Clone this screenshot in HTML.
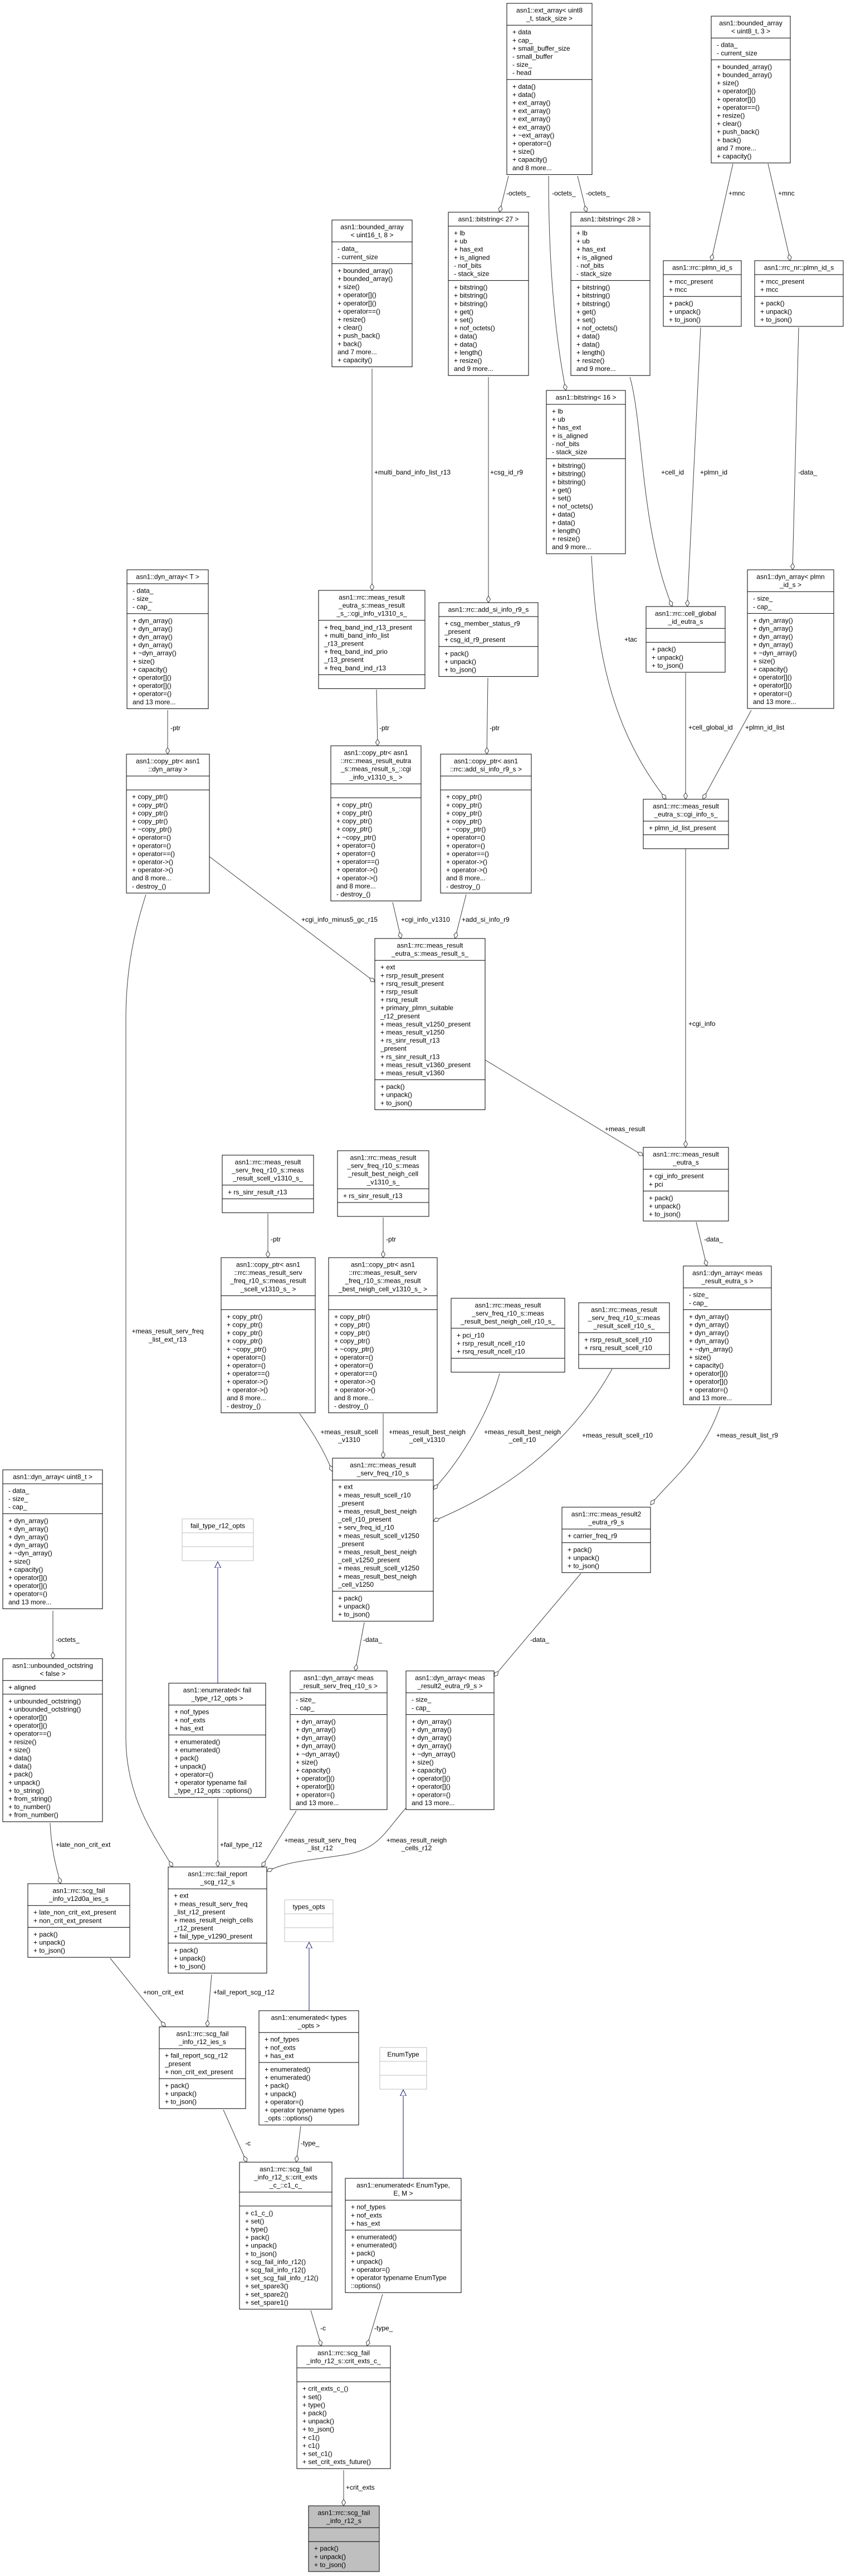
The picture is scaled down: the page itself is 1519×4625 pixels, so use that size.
<!DOCTYPE html>
<html><head><meta charset="utf-8"><style>
html,body{margin:0;padding:0;background:#fff;}
svg{display:block;}
text{font-family:"Liberation Sans",Arial,sans-serif;font-size:12px;fill:#000;}
.h{text-anchor:middle;}
.b{fill:#fff;stroke:#000;stroke-width:1;}
.g{fill:#fff;stroke:#bfbfbf;stroke-width:1;}
.s{stroke:#000;stroke-width:1;}
.sg{stroke:#bfbfbf;stroke-width:1;}
.e{fill:none;stroke:#404040;stroke-width:1;marker-end:url(#dia);}
.i{fill:none;stroke:#191970;stroke-width:1;marker-end:url(#tri);}
.l{text-anchor:start;}
.lc{text-anchor:middle;}
</style></head><body>
<svg width="1519" height="4625" viewBox="0 0 1519 4625" xmlns="http://www.w3.org/2000/svg">
<defs>
<marker id="dia" markerWidth="14" markerHeight="10" refX="12" refY="4" orient="auto" markerUnits="userSpaceOnUse"><path d="M0,4 L6,0.5 L12,4 L6,7.5 Z" fill="#fff" stroke="#404040" stroke-width="1"/></marker>
<marker id="tri" markerWidth="14" markerHeight="14" refX="11" refY="6" orient="auto" markerUnits="userSpaceOnUse"><path d="M0,0.5 L11,6 L0,11.5 Z" fill="#fff" stroke="#191970" stroke-width="1"/></marker>
</defs>

<!-- EDGES -->
<path class="e" d="M913,316 L897,381"/>
<path class="e" d="M1037,316 L1053,381"/>
<path class="e" d="M985,316 C985,500 1000,620 1016,701"/>
<path class="e" d="M1316,294 L1277,468"/>
<path class="e" d="M1379,294 L1419,468"/>
<path class="e" d="M668,662 L668,1060"/>
<path class="e" d="M877,677 L877,1082"/>
<path class="e" d="M1131,677 C1155,760 1150,950 1207,1089"/>
<path class="e" d="M1258,588 L1234,1089"/>
<path class="e" d="M1434,588 L1423,1023"/>
<path class="e" d="M1062,998 C1070,1150 1090,1300 1196,1435"/>
<path class="e" d="M1231,1208 L1231,1435"/>
<path class="e" d="M1349,1275 L1262,1435"/>
<path class="e" d="M301,1275 L301,1354"/>
<path class="e" d="M676,1238 L678,1339"/>
<path class="e" d="M876,1217 L874,1354"/>
<path class="e" d="M376,1538 L673,1763"/>
<path class="e" d="M705,1620 L720,1685"/>
<path class="e" d="M837,1606 L817,1685"/>
<path class="e" d="M1231,1524 L1231,2060"/>
<path class="e" d="M871,1903 L1155,2075"/>
<path class="e" d="M1250,2194 L1269,2273"/>
<path class="e" d="M262,1606 C235,1690 226,1760 226,1830 L226,3120 C226,3230 280,3300 310,3352"/>
<path class="e" d="M481,2179 L481,2258"/>
<path class="e" d="M688,2186 L688,2258"/>
<path class="e" d="M538,2538 C560,2570 580,2600 597,2642"/>
<path class="e" d="M688,2538 L688,2618"/>
<path class="e" d="M897,2466 C880,2530 830,2620 778,2674"/>
<path class="e" d="M1099,2458 C1020,2600 900,2680 778,2731"/>
<path class="e" d="M1293,2525 C1260,2620 1200,2660 1168,2702"/>
<path class="e" d="M654,2913 L638,3000"/>
<path class="e" d="M1043,2825 L887,3010"/>
<path class="e" d="M95,2892 L95,2978"/>
<path class="e" d="M90,3273 C92,3320 100,3350 109,3382"/>
<path class="i" d="M391,3022 L391,2804"/>
<path class="e" d="M391,3229 L391,3352"/>
<path class="e" d="M532,3251 L470,3352"/>
<path class="e" d="M729,3246 C690,3290 680,3320 620,3330 C560,3340 520,3340 479,3360"/>
<path class="e" d="M198,3516 L297,3639"/>
<path class="e" d="M380,3545 L372,3639"/>
<path class="i" d="M555,3610 L555,3487"/>
<path class="e" d="M401,3788 L443,3882"/>
<path class="e" d="M540,3817 L532,3882"/>
<path class="i" d="M724,3911 L724,3752"/>
<path class="e" d="M558,4148 L577,4212"/>
<path class="e" d="M687,4119 L659,4212"/>
<path class="e" d="M617,4435 L617,4499"/>

<!-- EDGE LABELS -->
<text class="l" x="909" y="351">-octets_</text>
<text class="l" x="1052" y="351">-octets_</text>
<text class="l" x="991" y="351">-octets_</text>
<text class="l" x="1308" y="351">+mnc</text>
<text class="l" x="1397" y="351">+mnc</text>
<text class="l" x="672" y="852">+multi_band_info_list_r13</text>
<text class="l" x="880" y="852">+csg_id_r9</text>
<text class="l" x="1187" y="852">+cell_id</text>
<text class="l" x="1257" y="852">+plmn_id</text>
<text class="l" x="1433" y="852">-data_</text>
<text class="l" x="1121" y="1152">+tac</text>
<text class="l" x="1236" y="1310">+cell_global_id</text>
<text class="l" x="1338" y="1310">+plmn_id_list</text>
<text class="l" x="306" y="1311">-ptr</text>
<text class="l" x="681" y="1311">-ptr</text>
<text class="l" x="879" y="1311">-ptr</text>
<text class="l" x="541" y="1655">+cgi_info_minus5_gc_r15</text>
<text class="l" x="720" y="1655">+cgi_info_v1310</text>
<text class="l" x="829" y="1655">+add_si_info_r9</text>
<text class="l" x="1236" y="1842">+cgi_info</text>
<text class="l" x="1086" y="2031">+meas_result</text>
<text class="l" x="1264" y="2229">-data_</text>
<text class="lc" x="301" y="2394">+meas_result_serv_freq</text>
<text class="lc" x="301" y="2409">_list_ext_r13</text>
<text class="l" x="486" y="2229">-ptr</text>
<text class="l" x="693" y="2229">-ptr</text>
<text class="lc" x="627" y="2575">+meas_result_scell</text>
<text class="lc" x="627" y="2589">_v1310</text>
<text class="lc" x="767" y="2575">+meas_result_best_neigh</text>
<text class="lc" x="767" y="2589">_cell_v1310</text>
<text class="lc" x="938" y="2575">+meas_result_best_neigh</text>
<text class="lc" x="938" y="2589">_cell_r10</text>
<text class="l" x="1045" y="2581">+meas_result_scell_r10</text>
<text class="l" x="1286" y="2581">+meas_result_list_r9</text>
<text class="l" x="652" y="2948">-data_</text>
<text class="l" x="952" y="2948">-data_</text>
<text class="l" x="100" y="2948">-octets_</text>
<text class="l" x="100" y="3316">+late_non_crit_ext</text>
<text class="l" x="395" y="3316">+fail_type_r12</text>
<text class="lc" x="575" y="3308">+meas_result_serv_freq</text>
<text class="lc" x="575" y="3322">_list_r12</text>
<text class="lc" x="748" y="3308">+meas_result_neigh</text>
<text class="lc" x="748" y="3322">_cells_r12</text>
<text class="l" x="257" y="3581">+non_crit_ext</text>
<text class="l" x="383" y="3581">+fail_report_scg_r12</text>
<text class="l" x="440" y="3852">-c</text>
<text class="l" x="540" y="3852">-type_</text>
<text class="l" x="575" y="4184">-c</text>
<text class="l" x="672" y="4184">-type_</text>
<text class="l" x="621" y="4470">+crit_exts</text>

<!-- B1 ext_array -->
<g transform="translate(910,6)"><rect class="b" width="153" height="307.4"/><line class="s" x1="0" y1="39.2" x2="153" y2="39.2"/><line class="s" x1="0" y1="136.8" x2="153" y2="136.8"/>
<text class="h"><tspan x="76.5" y="16.5">asn1::ext_array&lt; uint8</tspan><tspan x="76.5" dy="14.6">_t, stack_size &gt;</tspan></text>
<text><tspan x="10" y="55.7">+ data</tspan><tspan x="10" dy="14.6">+ cap_</tspan><tspan x="10" dy="14.6">+ small_buffer_size</tspan><tspan x="10" dy="14.6">- small_buffer</tspan><tspan x="10" dy="14.6">- size_</tspan><tspan x="10" dy="14.6">- head</tspan></text>
<text><tspan x="10" y="153.3">+ data()</tspan><tspan x="10" dy="14.6">+ data()</tspan><tspan x="10" dy="14.6">+ ext_array()</tspan><tspan x="10" dy="14.6">+ ext_array()</tspan><tspan x="10" dy="14.6">+ ext_array()</tspan><tspan x="10" dy="14.6">+ ext_array()</tspan><tspan x="10" dy="14.6">+ ~ext_array()</tspan><tspan x="10" dy="14.6">+ operator=()</tspan><tspan x="10" dy="14.6">+ size()</tspan><tspan x="10" dy="14.6">+ capacity()</tspan><tspan x="10" dy="14.6">and 8 more...</tspan></text></g>

<!-- B2 bounded_array uint8 3 -->
<g transform="translate(1277,29)"><rect class="b" width="142" height="263.6"/><line class="s" x1="0" y1="39.2" x2="142" y2="39.2"/><line class="s" x1="0" y1="78.4" x2="142" y2="78.4"/>
<text class="h"><tspan x="71" y="16.5">asn1::bounded_array</tspan><tspan x="71" dy="14.6">&lt; uint8_t, 3 &gt;</tspan></text>
<text><tspan x="10" y="55.7">- data_</tspan><tspan x="10" dy="14.6">- current_size</tspan></text>
<text><tspan x="10" y="94.9">+ bounded_array()</tspan><tspan x="10" dy="14.6">+ bounded_array()</tspan><tspan x="10" dy="14.6">+ size()</tspan><tspan x="10" dy="14.6">+ operator[]()</tspan><tspan x="10" dy="14.6">+ operator[]()</tspan><tspan x="10" dy="14.6">+ operator==()</tspan><tspan x="10" dy="14.6">+ resize()</tspan><tspan x="10" dy="14.6">+ clear()</tspan><tspan x="10" dy="14.6">+ push_back()</tspan><tspan x="10" dy="14.6">+ back()</tspan><tspan x="10" dy="14.6">and 7 more...</tspan><tspan x="10" dy="14.6">+ capacity()</tspan></text></g>

<!-- B3 bounded_array uint16 8 -->
<g transform="translate(596,395)"><rect class="b" width="144" height="263.6"/><line class="s" x1="0" y1="39.2" x2="144" y2="39.2"/><line class="s" x1="0" y1="78.4" x2="144" y2="78.4"/>
<text class="h"><tspan x="72" y="16.5">asn1::bounded_array</tspan><tspan x="72" dy="14.6">&lt; uint16_t, 8 &gt;</tspan></text>
<text><tspan x="10" y="55.7">- data_</tspan><tspan x="10" dy="14.6">- current_size</tspan></text>
<text><tspan x="10" y="94.9">+ bounded_array()</tspan><tspan x="10" dy="14.6">+ bounded_array()</tspan><tspan x="10" dy="14.6">+ size()</tspan><tspan x="10" dy="14.6">+ operator[]()</tspan><tspan x="10" dy="14.6">+ operator[]()</tspan><tspan x="10" dy="14.6">+ operator==()</tspan><tspan x="10" dy="14.6">+ resize()</tspan><tspan x="10" dy="14.6">+ clear()</tspan><tspan x="10" dy="14.6">+ push_back()</tspan><tspan x="10" dy="14.6">+ back()</tspan><tspan x="10" dy="14.6">and 7 more...</tspan><tspan x="10" dy="14.6">+ capacity()</tspan></text></g>

<!-- B4 bitstring 27 -->
<g transform="translate(805,381)"><rect class="b" width="144" height="293.2"/><line class="s" x1="0" y1="25" x2="144" y2="25"/><line class="s" x1="0" y1="122.6" x2="144" y2="122.6"/>
<text class="h"><tspan x="72" y="16.5">asn1::bitstring&lt; 27 &gt;</tspan></text>
<text><tspan x="10" y="41.5">+ lb</tspan><tspan x="10" dy="14.6">+ ub</tspan><tspan x="10" dy="14.6">+ has_ext</tspan><tspan x="10" dy="14.6">+ is_aligned</tspan><tspan x="10" dy="14.6">- nof_bits</tspan><tspan x="10" dy="14.6">- stack_size</tspan></text>
<text><tspan x="10" y="139.1">+ bitstring()</tspan><tspan x="10" dy="14.6">+ bitstring()</tspan><tspan x="10" dy="14.6">+ bitstring()</tspan><tspan x="10" dy="14.6">+ get()</tspan><tspan x="10" dy="14.6">+ set()</tspan><tspan x="10" dy="14.6">+ nof_octets()</tspan><tspan x="10" dy="14.6">+ data()</tspan><tspan x="10" dy="14.6">+ data()</tspan><tspan x="10" dy="14.6">+ length()</tspan><tspan x="10" dy="14.6">+ resize()</tspan><tspan x="10" dy="14.6">and 9 more...</tspan></text></g>

<!-- B5 bitstring 28 -->
<g transform="translate(1025,381)"><rect class="b" width="142" height="293.2"/><line class="s" x1="0" y1="25" x2="142" y2="25"/><line class="s" x1="0" y1="122.6" x2="142" y2="122.6"/>
<text class="h"><tspan x="71" y="16.5">asn1::bitstring&lt; 28 &gt;</tspan></text>
<text><tspan x="10" y="41.5">+ lb</tspan><tspan x="10" dy="14.6">+ ub</tspan><tspan x="10" dy="14.6">+ has_ext</tspan><tspan x="10" dy="14.6">+ is_aligned</tspan><tspan x="10" dy="14.6">- nof_bits</tspan><tspan x="10" dy="14.6">- stack_size</tspan></text>
<text><tspan x="10" y="139.1">+ bitstring()</tspan><tspan x="10" dy="14.6">+ bitstring()</tspan><tspan x="10" dy="14.6">+ bitstring()</tspan><tspan x="10" dy="14.6">+ get()</tspan><tspan x="10" dy="14.6">+ set()</tspan><tspan x="10" dy="14.6">+ nof_octets()</tspan><tspan x="10" dy="14.6">+ data()</tspan><tspan x="10" dy="14.6">+ data()</tspan><tspan x="10" dy="14.6">+ length()</tspan><tspan x="10" dy="14.6">+ resize()</tspan><tspan x="10" dy="14.6">and 9 more...</tspan></text></g>

<!-- B6 bitstring 16 -->
<g transform="translate(981,701)"><rect class="b" width="142" height="293.2"/><line class="s" x1="0" y1="25" x2="142" y2="25"/><line class="s" x1="0" y1="122.6" x2="142" y2="122.6"/>
<text class="h"><tspan x="71" y="16.5">asn1::bitstring&lt; 16 &gt;</tspan></text>
<text><tspan x="10" y="41.5">+ lb</tspan><tspan x="10" dy="14.6">+ ub</tspan><tspan x="10" dy="14.6">+ has_ext</tspan><tspan x="10" dy="14.6">+ is_aligned</tspan><tspan x="10" dy="14.6">- nof_bits</tspan><tspan x="10" dy="14.6">- stack_size</tspan></text>
<text><tspan x="10" y="139.1">+ bitstring()</tspan><tspan x="10" dy="14.6">+ bitstring()</tspan><tspan x="10" dy="14.6">+ bitstring()</tspan><tspan x="10" dy="14.6">+ get()</tspan><tspan x="10" dy="14.6">+ set()</tspan><tspan x="10" dy="14.6">+ nof_octets()</tspan><tspan x="10" dy="14.6">+ data()</tspan><tspan x="10" dy="14.6">+ data()</tspan><tspan x="10" dy="14.6">+ length()</tspan><tspan x="10" dy="14.6">+ resize()</tspan><tspan x="10" dy="14.6">and 9 more...</tspan></text></g>

<!-- B7 plmn rrc -->
<g transform="translate(1191,468)"><rect class="b" width="140" height="118"/><line class="s" x1="0" y1="25" x2="140" y2="25"/><line class="s" x1="0" y1="64.2" x2="140" y2="64.2"/>
<text class="h"><tspan x="70" y="16.5">asn1::rrc::plmn_id_s</tspan></text>
<text><tspan x="10" y="41.5">+ mcc_present</tspan><tspan x="10" dy="14.6">+ mcc</tspan></text>
<text><tspan x="10" y="80.7">+ pack()</tspan><tspan x="10" dy="14.6">+ unpack()</tspan><tspan x="10" dy="14.6">+ to_json()</tspan></text></g>

<!-- B8 plmn rrc_nr -->
<g transform="translate(1355,468)"><rect class="b" width="159" height="118"/><line class="s" x1="0" y1="25" x2="159" y2="25"/><line class="s" x1="0" y1="64.2" x2="159" y2="64.2"/>
<text class="h"><tspan x="79.5" y="16.5">asn1::rrc_nr::plmn_id_s</tspan></text>
<text><tspan x="10" y="41.5">+ mcc_present</tspan><tspan x="10" dy="14.6">+ mcc</tspan></text>
<text><tspan x="10" y="80.7">+ pack()</tspan><tspan x="10" dy="14.6">+ unpack()</tspan><tspan x="10" dy="14.6">+ to_json()</tspan></text></g>

<!-- B9 dyn_array plmn_id_s -->
<g transform="translate(1342,1023)"><rect class="b" width="155" height="249"/><line class="s" x1="0" y1="39.2" x2="155" y2="39.2"/><line class="s" x1="0" y1="78.4" x2="155" y2="78.4"/>
<text class="h"><tspan x="77.5" y="16.5">asn1::dyn_array&lt; plmn</tspan><tspan x="77.5" dy="14.6">_id_s &gt;</tspan></text>
<text><tspan x="10" y="55.7">- size_</tspan><tspan x="10" dy="14.6">- cap_</tspan></text>
<text><tspan x="10" y="94.9">+ dyn_array()</tspan><tspan x="10" dy="14.6">+ dyn_array()</tspan><tspan x="10" dy="14.6">+ dyn_array()</tspan><tspan x="10" dy="14.6">+ dyn_array()</tspan><tspan x="10" dy="14.6">+ ~dyn_array()</tspan><tspan x="10" dy="14.6">+ size()</tspan><tspan x="10" dy="14.6">+ capacity()</tspan><tspan x="10" dy="14.6">+ operator[]()</tspan><tspan x="10" dy="14.6">+ operator[]()</tspan><tspan x="10" dy="14.6">+ operator=()</tspan><tspan x="10" dy="14.6">and 13 more...</tspan></text></g>

<!-- B10 cell_global -->
<g transform="translate(1160,1089)"><rect class="b" width="142" height="118"/><line class="s" x1="0" y1="39.2" x2="142" y2="39.2"/><line class="s" x1="0" y1="64.2" x2="142" y2="64.2"/>
<text class="h"><tspan x="71" y="16.5">asn1::rrc::cell_global</tspan><tspan x="71" dy="14.6">_id_eutra_s</tspan></text>
<text><tspan x="10" y="80.7">+ pack()</tspan><tspan x="10" dy="14.6">+ unpack()</tspan><tspan x="10" dy="14.6">+ to_json()</tspan></text></g>

<!-- B11 dyn_array T -->
<g transform="translate(228,1023)"><rect class="b" width="146" height="249.4"/><line class="s" x1="0" y1="25" x2="146" y2="25"/><line class="s" x1="0" y1="78.8" x2="146" y2="78.8"/>
<text class="h"><tspan x="73" y="16.5">asn1::dyn_array&lt; T &gt;</tspan></text>
<text><tspan x="10" y="41.5">- data_</tspan><tspan x="10" dy="14.6">- size_</tspan><tspan x="10" dy="14.6">- cap_</tspan></text>
<text><tspan x="10" y="95.3">+ dyn_array()</tspan><tspan x="10" dy="14.6">+ dyn_array()</tspan><tspan x="10" dy="14.6">+ dyn_array()</tspan><tspan x="10" dy="14.6">+ dyn_array()</tspan><tspan x="10" dy="14.6">+ ~dyn_array()</tspan><tspan x="10" dy="14.6">+ size()</tspan><tspan x="10" dy="14.6">+ capacity()</tspan><tspan x="10" dy="14.6">+ operator[]()</tspan><tspan x="10" dy="14.6">+ operator[]()</tspan><tspan x="10" dy="14.6">+ operator=()</tspan><tspan x="10" dy="14.6">and 13 more...</tspan></text></g>

<!-- B12 cgi_info_v1310 -->
<g transform="translate(572,1060)"><rect class="b" width="191" height="176.4"/><line class="s" x1="0" y1="53.8" x2="191" y2="53.8"/><line class="s" x1="0" y1="151.4" x2="191" y2="151.4"/>
<text class="h"><tspan x="95.5" y="16.5">asn1::rrc::meas_result</tspan><tspan x="95.5" dy="14.6">_eutra_s::meas_result</tspan><tspan x="95.5" dy="14.6">_s_::cgi_info_v1310_s_</tspan></text>
<text><tspan x="10" y="70.3">+ freq_band_ind_r13_present</tspan><tspan x="10" dy="14.6">+ multi_band_info_list</tspan><tspan x="10" dy="14.6">_r13_present</tspan><tspan x="10" dy="14.6">+ freq_band_ind_prio</tspan><tspan x="10" dy="14.6">_r13_present</tspan><tspan x="10" dy="14.6">+ freq_band_ind_r13</tspan></text></g>

<!-- B13 add_si_info_r9_s -->
<g transform="translate(788,1082)"><rect class="b" width="178" height="132.6"/><line class="s" x1="0" y1="25" x2="178" y2="25"/><line class="s" x1="0" y1="78.8" x2="178" y2="78.8"/>
<text class="h"><tspan x="89" y="16.5">asn1::rrc::add_si_info_r9_s</tspan></text>
<text><tspan x="10" y="41.5">+ csg_member_status_r9</tspan><tspan x="10" dy="14.6">_present</tspan><tspan x="10" dy="14.6">+ csg_id_r9_present</tspan></text>
<text><tspan x="10" y="95.3">+ pack()</tspan><tspan x="10" dy="14.6">+ unpack()</tspan><tspan x="10" dy="14.6">+ to_json()</tspan></text></g>

<!-- B14 copy_ptr dyn_array -->
<g transform="translate(227,1354)"><rect class="b" width="149" height="249.4"/><line class="s" x1="0" y1="39.2" x2="149" y2="39.2"/><line class="s" x1="0" y1="64.2" x2="149" y2="64.2"/>
<text class="h"><tspan x="74.5" y="16.5">asn1::copy_ptr&lt; asn1</tspan><tspan x="74.5" dy="14.6">::dyn_array &gt;</tspan></text>
<text><tspan x="10" y="80.7">+ copy_ptr()</tspan><tspan x="10" dy="14.6">+ copy_ptr()</tspan><tspan x="10" dy="14.6">+ copy_ptr()</tspan><tspan x="10" dy="14.6">+ copy_ptr()</tspan><tspan x="10" dy="14.6">+ ~copy_ptr()</tspan><tspan x="10" dy="14.6">+ operator=()</tspan><tspan x="10" dy="14.6">+ operator=()</tspan><tspan x="10" dy="14.6">+ operator==()</tspan><tspan x="10" dy="14.6">+ operator-&gt;()</tspan><tspan x="10" dy="14.6">+ operator-&gt;()</tspan><tspan x="10" dy="14.6">and 8 more...</tspan><tspan x="10" dy="14.6">- destroy_()</tspan></text></g>

<!-- B15 copy_ptr cgi -->
<g transform="translate(594,1339)"><rect class="b" width="162" height="278.6"/><line class="s" x1="0" y1="68.4" x2="162" y2="68.4"/><line class="s" x1="0" y1="93.4" x2="162" y2="93.4"/>
<text class="h"><tspan x="81" y="16.5">asn1::copy_ptr&lt; asn1</tspan><tspan x="81" dy="14.6">::rrc::meas_result_eutra</tspan><tspan x="81" dy="14.6">_s::meas_result_s_::cgi</tspan><tspan x="81" dy="14.6">_info_v1310_s_ &gt;</tspan></text>
<text><tspan x="10" y="109.9">+ copy_ptr()</tspan><tspan x="10" dy="14.6">+ copy_ptr()</tspan><tspan x="10" dy="14.6">+ copy_ptr()</tspan><tspan x="10" dy="14.6">+ copy_ptr()</tspan><tspan x="10" dy="14.6">+ ~copy_ptr()</tspan><tspan x="10" dy="14.6">+ operator=()</tspan><tspan x="10" dy="14.6">+ operator=()</tspan><tspan x="10" dy="14.6">+ operator==()</tspan><tspan x="10" dy="14.6">+ operator-&gt;()</tspan><tspan x="10" dy="14.6">+ operator-&gt;()</tspan><tspan x="10" dy="14.6">and 8 more...</tspan><tspan x="10" dy="14.6">- destroy_()</tspan></text></g>

<!-- B16 copy_ptr add_si -->
<g transform="translate(791,1354)"><rect class="b" width="163" height="249.4"/><line class="s" x1="0" y1="39.2" x2="163" y2="39.2"/><line class="s" x1="0" y1="64.2" x2="163" y2="64.2"/>
<text class="h"><tspan x="81.5" y="16.5">asn1::copy_ptr&lt; asn1</tspan><tspan x="81.5" dy="14.6">::rrc::add_si_info_r9_s &gt;</tspan></text>
<text><tspan x="10" y="80.7">+ copy_ptr()</tspan><tspan x="10" dy="14.6">+ copy_ptr()</tspan><tspan x="10" dy="14.6">+ copy_ptr()</tspan><tspan x="10" dy="14.6">+ copy_ptr()</tspan><tspan x="10" dy="14.6">+ ~copy_ptr()</tspan><tspan x="10" dy="14.6">+ operator=()</tspan><tspan x="10" dy="14.6">+ operator=()</tspan><tspan x="10" dy="14.6">+ operator==()</tspan><tspan x="10" dy="14.6">+ operator-&gt;()</tspan><tspan x="10" dy="14.6">+ operator-&gt;()</tspan><tspan x="10" dy="14.6">and 8 more...</tspan><tspan x="10" dy="14.6">- destroy_()</tspan></text></g>

<!-- B17 cgi_info_s_ -->
<g transform="translate(1155,1435)"><rect class="b" width="153" height="88.8"/><line class="s" x1="0" y1="39.2" x2="153" y2="39.2"/><line class="s" x1="0" y1="63.8" x2="153" y2="63.8"/>
<text class="h"><tspan x="76.5" y="16.5">asn1::rrc::meas_result</tspan><tspan x="76.5" dy="14.6">_eutra_s::cgi_info_s_</tspan></text>
<text><tspan x="10" y="55.7">+ plmn_id_list_present</tspan></text></g>

<!-- B18 meas_result_s_ -->
<g transform="translate(673,1685)"><rect class="b" width="198" height="307.4"/><line class="s" x1="0" y1="39.2" x2="198" y2="39.2"/><line class="s" x1="0" y1="253.6" x2="198" y2="253.6"/>
<text class="h"><tspan x="99" y="16.5">asn1::rrc::meas_result</tspan><tspan x="99" dy="14.6">_eutra_s::meas_result_s_</tspan></text>
<text><tspan x="10" y="55.7">+ ext</tspan><tspan x="10" dy="14.6">+ rsrp_result_present</tspan><tspan x="10" dy="14.6">+ rsrq_result_present</tspan><tspan x="10" dy="14.6">+ rsrp_result</tspan><tspan x="10" dy="14.6">+ rsrq_result</tspan><tspan x="10" dy="14.6">+ primary_plmn_suitable</tspan><tspan x="10" dy="14.6">_r12_present</tspan><tspan x="10" dy="14.6">+ meas_result_v1250_present</tspan><tspan x="10" dy="14.6">+ meas_result_v1250</tspan><tspan x="10" dy="14.6">+ rs_sinr_result_r13</tspan><tspan x="10" dy="14.6">_present</tspan><tspan x="10" dy="14.6">+ rs_sinr_result_r13</tspan><tspan x="10" dy="14.6">+ meas_result_v1360_present</tspan><tspan x="10" dy="14.6">+ meas_result_v1360</tspan></text>
<text><tspan x="10" y="270.1">+ pack()</tspan><tspan x="10" dy="14.6">+ unpack()</tspan><tspan x="10" dy="14.6">+ to_json()</tspan></text></g>

<!-- B19 meas_result_eutra_s -->
<g transform="translate(1155,2060)"><rect class="b" width="153" height="132.2"/><line class="s" x1="0" y1="39.2" x2="153" y2="39.2"/><line class="s" x1="0" y1="78.4" x2="153" y2="78.4"/>
<text class="h"><tspan x="76.5" y="16.5">asn1::rrc::meas_result</tspan><tspan x="76.5" dy="14.6">_eutra_s</tspan></text>
<text><tspan x="10" y="55.7">+ cgi_info_present</tspan><tspan x="10" dy="14.6">+ pci</tspan></text>
<text><tspan x="10" y="94.9">+ pack()</tspan><tspan x="10" dy="14.6">+ unpack()</tspan><tspan x="10" dy="14.6">+ to_json()</tspan></text></g>

<!-- B20 scell_v1310 -->
<g transform="translate(399,2074)"><rect class="b" width="164" height="103.4"/><line class="s" x1="0" y1="53.8" x2="164" y2="53.8"/><line class="s" x1="0" y1="78.4" x2="164" y2="78.4"/>
<text class="h"><tspan x="82" y="16.5">asn1::rrc::meas_result</tspan><tspan x="82" dy="14.6">_serv_freq_r10_s::meas</tspan><tspan x="82" dy="14.6">_result_scell_v1310_s_</tspan></text>
<text><tspan x="10" y="70.3">+ rs_sinr_result_r13</tspan></text></g>

<!-- B21 best_neigh_v1310 -->
<g transform="translate(606,2066)"><rect class="b" width="164" height="118"/><line class="s" x1="0" y1="68.4" x2="164" y2="68.4"/><line class="s" x1="0" y1="93" x2="164" y2="93"/>
<text class="h"><tspan x="82" y="16.5">asn1::rrc::meas_result</tspan><tspan x="82" dy="14.6">_serv_freq_r10_s::meas</tspan><tspan x="82" dy="14.6">_result_best_neigh_cell</tspan><tspan x="82" dy="14.6">_v1310_s_</tspan></text>
<text><tspan x="10" y="84.9">+ rs_sinr_result_r13</tspan></text></g>

<!-- B22 dyn_array meas_result_eutra_s -->
<g transform="translate(1227,2273)"><rect class="b" width="158" height="249"/><line class="s" x1="0" y1="39.2" x2="158" y2="39.2"/><line class="s" x1="0" y1="78.4" x2="158" y2="78.4"/>
<text class="h"><tspan x="79" y="16.5">asn1::dyn_array&lt; meas</tspan><tspan x="79" dy="14.6">_result_eutra_s &gt;</tspan></text>
<text><tspan x="10" y="55.7">- size_</tspan><tspan x="10" dy="14.6">- cap_</tspan></text>
<text><tspan x="10" y="94.9">+ dyn_array()</tspan><tspan x="10" dy="14.6">+ dyn_array()</tspan><tspan x="10" dy="14.6">+ dyn_array()</tspan><tspan x="10" dy="14.6">+ dyn_array()</tspan><tspan x="10" dy="14.6">+ ~dyn_array()</tspan><tspan x="10" dy="14.6">+ size()</tspan><tspan x="10" dy="14.6">+ capacity()</tspan><tspan x="10" dy="14.6">+ operator[]()</tspan><tspan x="10" dy="14.6">+ operator[]()</tspan><tspan x="10" dy="14.6">+ operator=()</tspan><tspan x="10" dy="14.6">and 13 more...</tspan></text></g>

<!-- B23 copy_ptr scell -->
<g transform="translate(397,2258)"><rect class="b" width="169" height="278.6"/><line class="s" x1="0" y1="68.4" x2="169" y2="68.4"/><line class="s" x1="0" y1="93.4" x2="169" y2="93.4"/>
<text class="h"><tspan x="84.5" y="16.5">asn1::copy_ptr&lt; asn1</tspan><tspan x="84.5" dy="14.6">::rrc::meas_result_serv</tspan><tspan x="84.5" dy="14.6">_freq_r10_s::meas_result</tspan><tspan x="84.5" dy="14.6">_scell_v1310_s_ &gt;</tspan></text>
<text><tspan x="10" y="109.9">+ copy_ptr()</tspan><tspan x="10" dy="14.6">+ copy_ptr()</tspan><tspan x="10" dy="14.6">+ copy_ptr()</tspan><tspan x="10" dy="14.6">+ copy_ptr()</tspan><tspan x="10" dy="14.6">+ ~copy_ptr()</tspan><tspan x="10" dy="14.6">+ operator=()</tspan><tspan x="10" dy="14.6">+ operator=()</tspan><tspan x="10" dy="14.6">+ operator==()</tspan><tspan x="10" dy="14.6">+ operator-&gt;()</tspan><tspan x="10" dy="14.6">+ operator-&gt;()</tspan><tspan x="10" dy="14.6">and 8 more...</tspan><tspan x="10" dy="14.6">- destroy_()</tspan></text></g>

<!-- B24 copy_ptr best -->
<g transform="translate(590,2258)"><rect class="b" width="195" height="278.6"/><line class="s" x1="0" y1="68.4" x2="195" y2="68.4"/><line class="s" x1="0" y1="93.4" x2="195" y2="93.4"/>
<text class="h"><tspan x="97.5" y="16.5">asn1::copy_ptr&lt; asn1</tspan><tspan x="97.5" dy="14.6">::rrc::meas_result_serv</tspan><tspan x="97.5" dy="14.6">_freq_r10_s::meas_result</tspan><tspan x="97.5" dy="14.6">_best_neigh_cell_v1310_s_ &gt;</tspan></text>
<text><tspan x="10" y="109.9">+ copy_ptr()</tspan><tspan x="10" dy="14.6">+ copy_ptr()</tspan><tspan x="10" dy="14.6">+ copy_ptr()</tspan><tspan x="10" dy="14.6">+ copy_ptr()</tspan><tspan x="10" dy="14.6">+ ~copy_ptr()</tspan><tspan x="10" dy="14.6">+ operator=()</tspan><tspan x="10" dy="14.6">+ operator=()</tspan><tspan x="10" dy="14.6">+ operator==()</tspan><tspan x="10" dy="14.6">+ operator-&gt;()</tspan><tspan x="10" dy="14.6">+ operator-&gt;()</tspan><tspan x="10" dy="14.6">and 8 more...</tspan><tspan x="10" dy="14.6">- destroy_()</tspan></text></g>

<!-- B25 best_neigh_cell_r10 -->
<g transform="translate(810,2331)"><rect class="b" width="204" height="132.6"/><line class="s" x1="0" y1="53.8" x2="204" y2="53.8"/><line class="s" x1="0" y1="107.6" x2="204" y2="107.6"/>
<text class="h"><tspan x="102" y="16.5">asn1::rrc::meas_result</tspan><tspan x="102" dy="14.6">_serv_freq_r10_s::meas</tspan><tspan x="102" dy="14.6">_result_best_neigh_cell_r10_s_</tspan></text>
<text><tspan x="10" y="70.3">+ pci_r10</tspan><tspan x="10" dy="14.6">+ rsrp_result_ncell_r10</tspan><tspan x="10" dy="14.6">+ rsrq_result_ncell_r10</tspan></text></g>

<!-- B26 scell_r10 -->
<g transform="translate(1039,2339)"><rect class="b" width="163" height="118"/><line class="s" x1="0" y1="53.8" x2="163" y2="53.8"/><line class="s" x1="0" y1="93" x2="163" y2="93"/>
<text class="h"><tspan x="81.5" y="16.5">asn1::rrc::meas_result</tspan><tspan x="81.5" dy="14.6">_serv_freq_r10_s::meas</tspan><tspan x="81.5" dy="14.6">_result_scell_r10_s_</tspan></text>
<text><tspan x="10" y="70.3">+ rsrp_result_scell_r10</tspan><tspan x="10" dy="14.6">+ rsrq_result_scell_r10</tspan></text></g>

<!-- B27 serv_freq_r10_s -->
<g transform="translate(597,2618)"><rect class="b" width="181" height="292.8"/><line class="s" x1="0" y1="39.2" x2="181" y2="39.2"/><line class="s" x1="0" y1="239" x2="181" y2="239"/>
<text class="h"><tspan x="90.5" y="16.5">asn1::rrc::meas_result</tspan><tspan x="90.5" dy="14.6">_serv_freq_r10_s</tspan></text>
<text><tspan x="10" y="55.7">+ ext</tspan><tspan x="10" dy="14.6">+ meas_result_scell_r10</tspan><tspan x="10" dy="14.6">_present</tspan><tspan x="10" dy="14.6">+ meas_result_best_neigh</tspan><tspan x="10" dy="14.6">_cell_r10_present</tspan><tspan x="10" dy="14.6">+ serv_freq_id_r10</tspan><tspan x="10" dy="14.6">+ meas_result_scell_v1250</tspan><tspan x="10" dy="14.6">_present</tspan><tspan x="10" dy="14.6">+ meas_result_best_neigh</tspan><tspan x="10" dy="14.6">_cell_v1250_present</tspan><tspan x="10" dy="14.6">+ meas_result_scell_v1250</tspan><tspan x="10" dy="14.6">+ meas_result_best_neigh</tspan><tspan x="10" dy="14.6">_cell_v1250</tspan></text>
<text><tspan x="10" y="255.5">+ pack()</tspan><tspan x="10" dy="14.6">+ unpack()</tspan><tspan x="10" dy="14.6">+ to_json()</tspan></text></g>

<!-- B28 dyn_array uint8_t -->
<g transform="translate(5,2639)"><rect class="b" width="179" height="249.4"/><line class="s" x1="0" y1="25" x2="179" y2="25"/><line class="s" x1="0" y1="78.8" x2="179" y2="78.8"/>
<text class="h"><tspan x="89.5" y="16.5">asn1::dyn_array&lt; uint8_t &gt;</tspan></text>
<text><tspan x="10" y="41.5">- data_</tspan><tspan x="10" dy="14.6">- size_</tspan><tspan x="10" dy="14.6">- cap_</tspan></text>
<text><tspan x="10" y="95.3">+ dyn_array()</tspan><tspan x="10" dy="14.6">+ dyn_array()</tspan><tspan x="10" dy="14.6">+ dyn_array()</tspan><tspan x="10" dy="14.6">+ dyn_array()</tspan><tspan x="10" dy="14.6">+ ~dyn_array()</tspan><tspan x="10" dy="14.6">+ size()</tspan><tspan x="10" dy="14.6">+ capacity()</tspan><tspan x="10" dy="14.6">+ operator[]()</tspan><tspan x="10" dy="14.6">+ operator[]()</tspan><tspan x="10" dy="14.6">+ operator=()</tspan><tspan x="10" dy="14.6">and 13 more...</tspan></text></g>

<!-- B29 unbounded_octstring -->
<g transform="translate(5,2978)"><rect class="b" width="179" height="292.8"/><line class="s" x1="0" y1="39.2" x2="179" y2="39.2"/><line class="s" x1="0" y1="63.8" x2="179" y2="63.8"/>
<text class="h"><tspan x="89.5" y="16.5">asn1::unbounded_octstring</tspan><tspan x="89.5" dy="14.6">&lt; false &gt;</tspan></text>
<text><tspan x="10" y="55.7">+ aligned</tspan></text>
<text><tspan x="10" y="80.3">+ unbounded_octstring()</tspan><tspan x="10" dy="14.6">+ unbounded_octstring()</tspan><tspan x="10" dy="14.6">+ operator[]()</tspan><tspan x="10" dy="14.6">+ operator[]()</tspan><tspan x="10" dy="14.6">+ operator==()</tspan><tspan x="10" dy="14.6">+ resize()</tspan><tspan x="10" dy="14.6">+ size()</tspan><tspan x="10" dy="14.6">+ data()</tspan><tspan x="10" dy="14.6">+ data()</tspan><tspan x="10" dy="14.6">+ pack()</tspan><tspan x="10" dy="14.6">+ unpack()</tspan><tspan x="10" dy="14.6">+ to_string()</tspan><tspan x="10" dy="14.6">+ from_string()</tspan><tspan x="10" dy="14.6">+ to_number()</tspan><tspan x="10" dy="14.6">+ from_number()</tspan></text></g>

<!-- B30 fail_type_r12_opts -->
<g transform="translate(327,2727)"><rect class="g" width="128" height="75"/><line class="sg" x1="0" y1="25" x2="128" y2="25"/><line class="sg" x1="0" y1="50" x2="128" y2="50"/>
<text class="h"><tspan x="64" y="16.5">fail_type_r12_opts</tspan></text></g>

<!-- B31 enumerated fail_type -->
<g transform="translate(303,3022)"><rect class="b" width="174" height="205.2"/><line class="s" x1="0" y1="39.2" x2="174" y2="39.2"/><line class="s" x1="0" y1="93" x2="174" y2="93"/>
<text class="h"><tspan x="87" y="16.5">asn1::enumerated&lt; fail</tspan><tspan x="87" dy="14.6">_type_r12_opts &gt;</tspan></text>
<text><tspan x="10" y="55.7">+ nof_types</tspan><tspan x="10" dy="14.6">+ nof_exts</tspan><tspan x="10" dy="14.6">+ has_ext</tspan></text>
<text><tspan x="10" y="109.5">+ enumerated()</tspan><tspan x="10" dy="14.6">+ enumerated()</tspan><tspan x="10" dy="14.6">+ pack()</tspan><tspan x="10" dy="14.6">+ unpack()</tspan><tspan x="10" dy="14.6">+ operator=()</tspan><tspan x="10" dy="14.6">+ operator typename fail</tspan><tspan x="10" dy="14.6">_type_r12_opts ::options()</tspan></text></g>

<!-- B32 dyn_array serv_freq_r10 -->
<g transform="translate(521,3000)"><rect class="b" width="174" height="249"/><line class="s" x1="0" y1="39.2" x2="174" y2="39.2"/><line class="s" x1="0" y1="78.4" x2="174" y2="78.4"/>
<text class="h"><tspan x="87" y="16.5">asn1::dyn_array&lt; meas</tspan><tspan x="87" dy="14.6">_result_serv_freq_r10_s &gt;</tspan></text>
<text><tspan x="10" y="55.7">- size_</tspan><tspan x="10" dy="14.6">- cap_</tspan></text>
<text><tspan x="10" y="94.9">+ dyn_array()</tspan><tspan x="10" dy="14.6">+ dyn_array()</tspan><tspan x="10" dy="14.6">+ dyn_array()</tspan><tspan x="10" dy="14.6">+ dyn_array()</tspan><tspan x="10" dy="14.6">+ ~dyn_array()</tspan><tspan x="10" dy="14.6">+ size()</tspan><tspan x="10" dy="14.6">+ capacity()</tspan><tspan x="10" dy="14.6">+ operator[]()</tspan><tspan x="10" dy="14.6">+ operator[]()</tspan><tspan x="10" dy="14.6">+ operator=()</tspan><tspan x="10" dy="14.6">and 13 more...</tspan></text></g>

<!-- B33 dyn_array meas_result2 -->
<g transform="translate(729,3000)"><rect class="b" width="158" height="249"/><line class="s" x1="0" y1="39.2" x2="158" y2="39.2"/><line class="s" x1="0" y1="78.4" x2="158" y2="78.4"/>
<text class="h"><tspan x="79" y="16.5">asn1::dyn_array&lt; meas</tspan><tspan x="79" dy="14.6">_result2_eutra_r9_s &gt;</tspan></text>
<text><tspan x="10" y="55.7">- size_</tspan><tspan x="10" dy="14.6">- cap_</tspan></text>
<text><tspan x="10" y="94.9">+ dyn_array()</tspan><tspan x="10" dy="14.6">+ dyn_array()</tspan><tspan x="10" dy="14.6">+ dyn_array()</tspan><tspan x="10" dy="14.6">+ dyn_array()</tspan><tspan x="10" dy="14.6">+ ~dyn_array()</tspan><tspan x="10" dy="14.6">+ size()</tspan><tspan x="10" dy="14.6">+ capacity()</tspan><tspan x="10" dy="14.6">+ operator[]()</tspan><tspan x="10" dy="14.6">+ operator[]()</tspan><tspan x="10" dy="14.6">+ operator=()</tspan><tspan x="10" dy="14.6">and 13 more...</tspan></text></g>

<!-- B34 meas_result2_eutra_r9_s -->
<g transform="translate(1009,2706)"><rect class="b" width="159" height="117.6"/><line class="s" x1="0" y1="39.2" x2="159" y2="39.2"/><line class="s" x1="0" y1="63.8" x2="159" y2="63.8"/>
<text class="h"><tspan x="79.5" y="16.5">asn1::rrc::meas_result2</tspan><tspan x="79.5" dy="14.6">_eutra_r9_s</tspan></text>
<text><tspan x="10" y="55.7">+ carrier_freq_r9</tspan></text>
<text><tspan x="10" y="80.3">+ pack()</tspan><tspan x="10" dy="14.6">+ unpack()</tspan><tspan x="10" dy="14.6">+ to_json()</tspan></text></g>

<!-- B35 fail_report_scg_r12_s -->
<g transform="translate(302,3352)"><rect class="b" width="177" height="190.6"/><line class="s" x1="0" y1="39.2" x2="177" y2="39.2"/><line class="s" x1="0" y1="136.8" x2="177" y2="136.8"/>
<text class="h"><tspan x="88.5" y="16.5">asn1::rrc::fail_report</tspan><tspan x="88.5" dy="14.6">_scg_r12_s</tspan></text>
<text><tspan x="10" y="55.7">+ ext</tspan><tspan x="10" dy="14.6">+ meas_result_serv_freq</tspan><tspan x="10" dy="14.6">_list_r12_present</tspan><tspan x="10" dy="14.6">+ meas_result_neigh_cells</tspan><tspan x="10" dy="14.6">_r12_present</tspan><tspan x="10" dy="14.6">+ fail_type_v1290_present</tspan></text>
<text><tspan x="10" y="153.3">+ pack()</tspan><tspan x="10" dy="14.6">+ unpack()</tspan><tspan x="10" dy="14.6">+ to_json()</tspan></text></g>

<!-- B36 v12d0a -->
<g transform="translate(50,3382)"><rect class="b" width="183" height="132.2"/><line class="s" x1="0" y1="39.2" x2="183" y2="39.2"/><line class="s" x1="0" y1="78.4" x2="183" y2="78.4"/>
<text class="h"><tspan x="91.5" y="16.5">asn1::rrc::scg_fail</tspan><tspan x="91.5" dy="14.6">_info_v12d0a_ies_s</tspan></text>
<text><tspan x="10" y="55.7">+ late_non_crit_ext_present</tspan><tspan x="10" dy="14.6">+ non_crit_ext_present</tspan></text>
<text><tspan x="10" y="94.9">+ pack()</tspan><tspan x="10" dy="14.6">+ unpack()</tspan><tspan x="10" dy="14.6">+ to_json()</tspan></text></g>

<!-- B37 types_opts -->
<g transform="translate(511,3411)"><rect class="g" width="87" height="75"/><line class="sg" x1="0" y1="25" x2="87" y2="25"/><line class="sg" x1="0" y1="50" x2="87" y2="50"/>
<text class="h"><tspan x="43.5" y="16.5">types_opts</tspan></text></g>

<!-- B38 enumerated types_opts -->
<g transform="translate(465,3610)"><rect class="b" width="179" height="205.2"/><line class="s" x1="0" y1="39.2" x2="179" y2="39.2"/><line class="s" x1="0" y1="93" x2="179" y2="93"/>
<text class="h"><tspan x="89.5" y="16.5">asn1::enumerated&lt; types</tspan><tspan x="89.5" dy="14.6">_opts &gt;</tspan></text>
<text><tspan x="10" y="55.7">+ nof_types</tspan><tspan x="10" dy="14.6">+ nof_exts</tspan><tspan x="10" dy="14.6">+ has_ext</tspan></text>
<text><tspan x="10" y="109.5">+ enumerated()</tspan><tspan x="10" dy="14.6">+ enumerated()</tspan><tspan x="10" dy="14.6">+ pack()</tspan><tspan x="10" dy="14.6">+ unpack()</tspan><tspan x="10" dy="14.6">+ operator=()</tspan><tspan x="10" dy="14.6">+ operator typename types</tspan><tspan x="10" dy="14.6">_opts ::options()</tspan></text></g>

<!-- B39 r12_ies_s -->
<g transform="translate(286,3639)"><rect class="b" width="155" height="146.8"/><line class="s" x1="0" y1="39.2" x2="155" y2="39.2"/><line class="s" x1="0" y1="93" x2="155" y2="93"/>
<text class="h"><tspan x="77.5" y="16.5">asn1::rrc::scg_fail</tspan><tspan x="77.5" dy="14.6">_info_r12_ies_s</tspan></text>
<text><tspan x="10" y="55.7">+ fail_report_scg_r12</tspan><tspan x="10" dy="14.6">_present</tspan><tspan x="10" dy="14.6">+ non_crit_ext_present</tspan></text>
<text><tspan x="10" y="109.5">+ pack()</tspan><tspan x="10" dy="14.6">+ unpack()</tspan><tspan x="10" dy="14.6">+ to_json()</tspan></text></g>

<!-- B40 EnumType -->
<g transform="translate(682,3676)"><rect class="g" width="84" height="75"/><line class="sg" x1="0" y1="25" x2="84" y2="25"/><line class="sg" x1="0" y1="50" x2="84" y2="50"/>
<text class="h"><tspan x="42" y="16.5">EnumType</tspan></text></g>

<!-- B41 c1_c_ -->
<g transform="translate(430,3882)"><rect class="b" width="166" height="264"/><line class="s" x1="0" y1="53.8" x2="166" y2="53.8"/><line class="s" x1="0" y1="78.8" x2="166" y2="78.8"/>
<text class="h"><tspan x="83" y="16.5">asn1::rrc::scg_fail</tspan><tspan x="83" dy="14.6">_info_r12_s::crit_exts</tspan><tspan x="83" dy="14.6">_c_::c1_c_</tspan></text>
<text><tspan x="10" y="95.3">+ c1_c_()</tspan><tspan x="10" dy="14.6">+ set()</tspan><tspan x="10" dy="14.6">+ type()</tspan><tspan x="10" dy="14.6">+ pack()</tspan><tspan x="10" dy="14.6">+ unpack()</tspan><tspan x="10" dy="14.6">+ to_json()</tspan><tspan x="10" dy="14.6">+ scg_fail_info_r12()</tspan><tspan x="10" dy="14.6">+ scg_fail_info_r12()</tspan><tspan x="10" dy="14.6">+ set_scg_fail_info_r12()</tspan><tspan x="10" dy="14.6">+ set_spare3()</tspan><tspan x="10" dy="14.6">+ set_spare2()</tspan><tspan x="10" dy="14.6">+ set_spare1()</tspan></text></g>

<!-- B42 enumerated EnumType -->
<g transform="translate(620,3911)"><rect class="b" width="208" height="205.2"/><line class="s" x1="0" y1="39.2" x2="208" y2="39.2"/><line class="s" x1="0" y1="93" x2="208" y2="93"/>
<text class="h"><tspan x="104" y="16.5">asn1::enumerated&lt; EnumType,</tspan><tspan x="104" dy="14.6">E, M &gt;</tspan></text>
<text><tspan x="10" y="55.7">+ nof_types</tspan><tspan x="10" dy="14.6">+ nof_exts</tspan><tspan x="10" dy="14.6">+ has_ext</tspan></text>
<text><tspan x="10" y="109.5">+ enumerated()</tspan><tspan x="10" dy="14.6">+ enumerated()</tspan><tspan x="10" dy="14.6">+ pack()</tspan><tspan x="10" dy="14.6">+ unpack()</tspan><tspan x="10" dy="14.6">+ operator=()</tspan><tspan x="10" dy="14.6">+ operator typename EnumType</tspan><tspan x="10" dy="14.6">::options()</tspan></text></g>

<!-- B43 crit_exts_c_ -->
<g transform="translate(533,4212)"><rect class="b" width="168" height="220.2"/><line class="s" x1="0" y1="39.2" x2="168" y2="39.2"/><line class="s" x1="0" y1="64.2" x2="168" y2="64.2"/>
<text class="h"><tspan x="84" y="16.5">asn1::rrc::scg_fail</tspan><tspan x="84" dy="14.6">_info_r12_s::crit_exts_c_</tspan></text>
<text><tspan x="10" y="80.7">+ crit_exts_c_()</tspan><tspan x="10" dy="14.6">+ set()</tspan><tspan x="10" dy="14.6">+ type()</tspan><tspan x="10" dy="14.6">+ pack()</tspan><tspan x="10" dy="14.6">+ unpack()</tspan><tspan x="10" dy="14.6">+ to_json()</tspan><tspan x="10" dy="14.6">+ c1()</tspan><tspan x="10" dy="14.6">+ c1()</tspan><tspan x="10" dy="14.6">+ set_c1()</tspan><tspan x="10" dy="14.6">+ set_crit_exts_future()</tspan></text></g>

<!-- B44 scg_fail_info_r12_s -->
<g transform="translate(554,4499)"><rect width="127" height="118" fill="#bfbfbf" stroke="#000" stroke-width="1"/><line class="s" x1="0" y1="39.2" x2="127" y2="39.2"/><line class="s" x1="0" y1="64.2" x2="127" y2="64.2"/>
<text class="h"><tspan x="63.5" y="16.5">asn1::rrc::scg_fail</tspan><tspan x="63.5" dy="14.6">_info_r12_s</tspan></text>
<text><tspan x="10" y="80.7">+ pack()</tspan><tspan x="10" dy="14.6">+ unpack()</tspan><tspan x="10" dy="14.6">+ to_json()</tspan></text></g>
</svg>
</body></html>
